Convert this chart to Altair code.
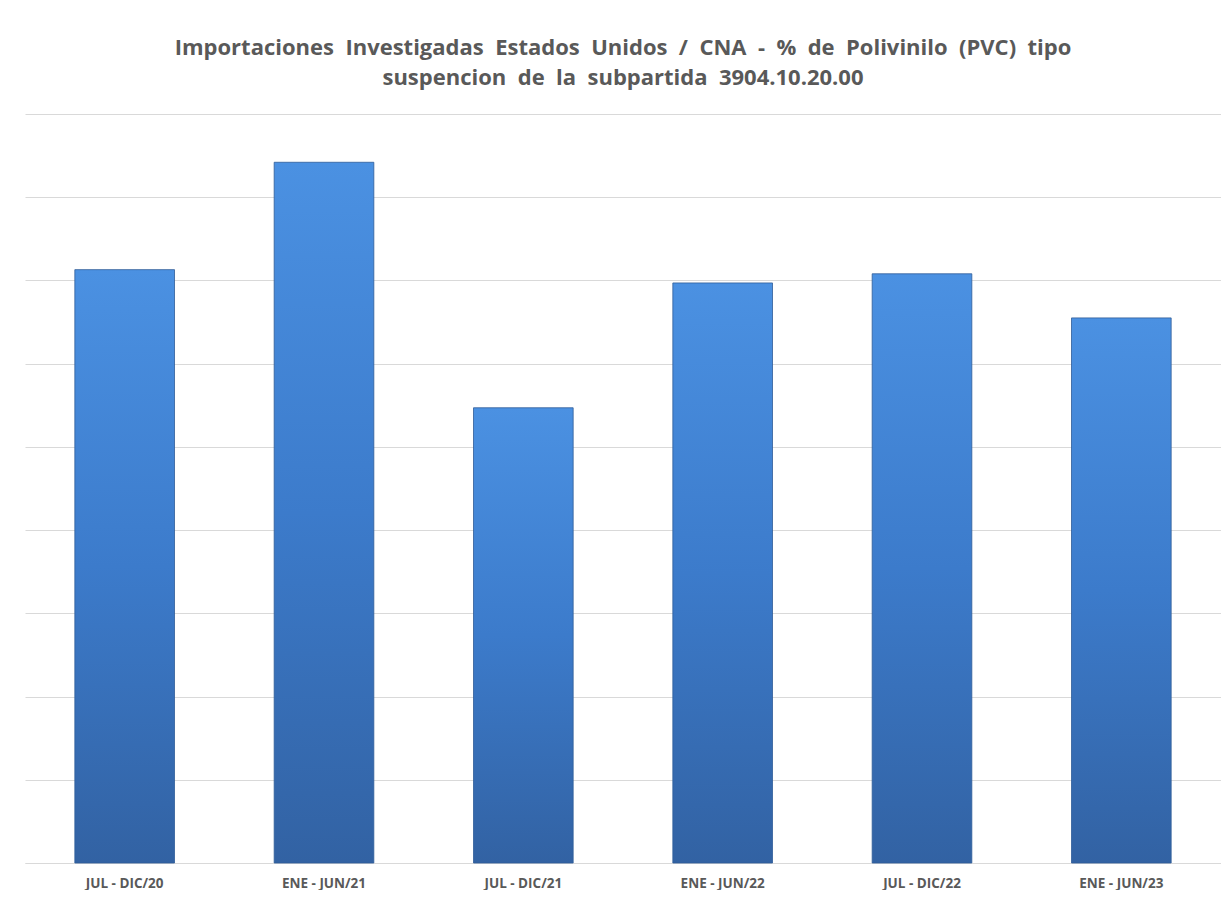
import altair as alt
import pandas as pd

periodos = ["JUL - DIC/20", "ENE - JUN/21", "JUL - DIC/21", "ENE - JUN/22", "JUL - DIC/22", "ENE - JUN/23"]
valores = [7.13, 8.42, 5.47, 6.97, 7.08, 6.55]
grid_ticks = [0, 1, 2, 3, 4, 5, 6, 7, 8, 9]

df = pd.DataFrame({"periodo": periodos, "valor": valores})

W, H = 1196, 749

gradient = alt.Gradient(
    gradient="linear",
    stops=[
        alt.GradientStop(offset=0, color="#4b91e2"),
        alt.GradientStop(offset=0.5, color="#3c7bcb"),
        alt.GradientStop(offset=1, color="#3262a3"),
    ],
    x1=1, x2=1, y1=0, y2=1,
)

bars = alt.Chart(df).mark_bar(color=gradient, stroke="#2f5c98", strokeWidth=0.8).encode(
    x=alt.X("periodo:N", sort=periodos,
            scale=alt.Scale(paddingInner=0.5, paddingOuter=0.25),
            axis=alt.Axis(title=None, labelAngle=0, labelFont="Open Sans", labelFontWeight="bold",
                          labelFontSize=13.5, labelColor="#595959", labelPadding=13, ticks=False,
                          domain=True, domainColor="#d9d9d9", domainWidth=1.2)),
    y=alt.Y("valor:Q", scale=alt.Scale(domain=[0, 9], nice=False),
            axis=alt.Axis(title=None, labels=False, ticks=False, domain=False, values=grid_ticks,
                          grid=True, gridColor="#d9d9d9", gridWidth=1.2, minExtent=0, maxExtent=0)),
)

sp = " \u00a0"
linea1 = sp.join(["Importaciones", "Investigadas", "Estados", "Unidos", "/", "CNA", "-", "%", "de",
                  "Polivinilo", "(PVC)", "tipo"])
linea2 = sp.join(["suspencion", "de", "la", "subpartida", "3904.10.20.00"])

chart = bars.properties(
    width=W, height=H,
    title=alt.TitleParams(
        text=[linea1, linea2],
        font="Open Sans", fontSize=22, fontWeight="bold", color="#595959",
        anchor="middle", lineHeight=30, offset=24,
    ),
    padding={"left": 17, "top": 29, "right": 0, "bottom": 0},
).configure_view(stroke=None)

chart.save("out.html", embed_options={"renderer": "svg", "actions": False})
